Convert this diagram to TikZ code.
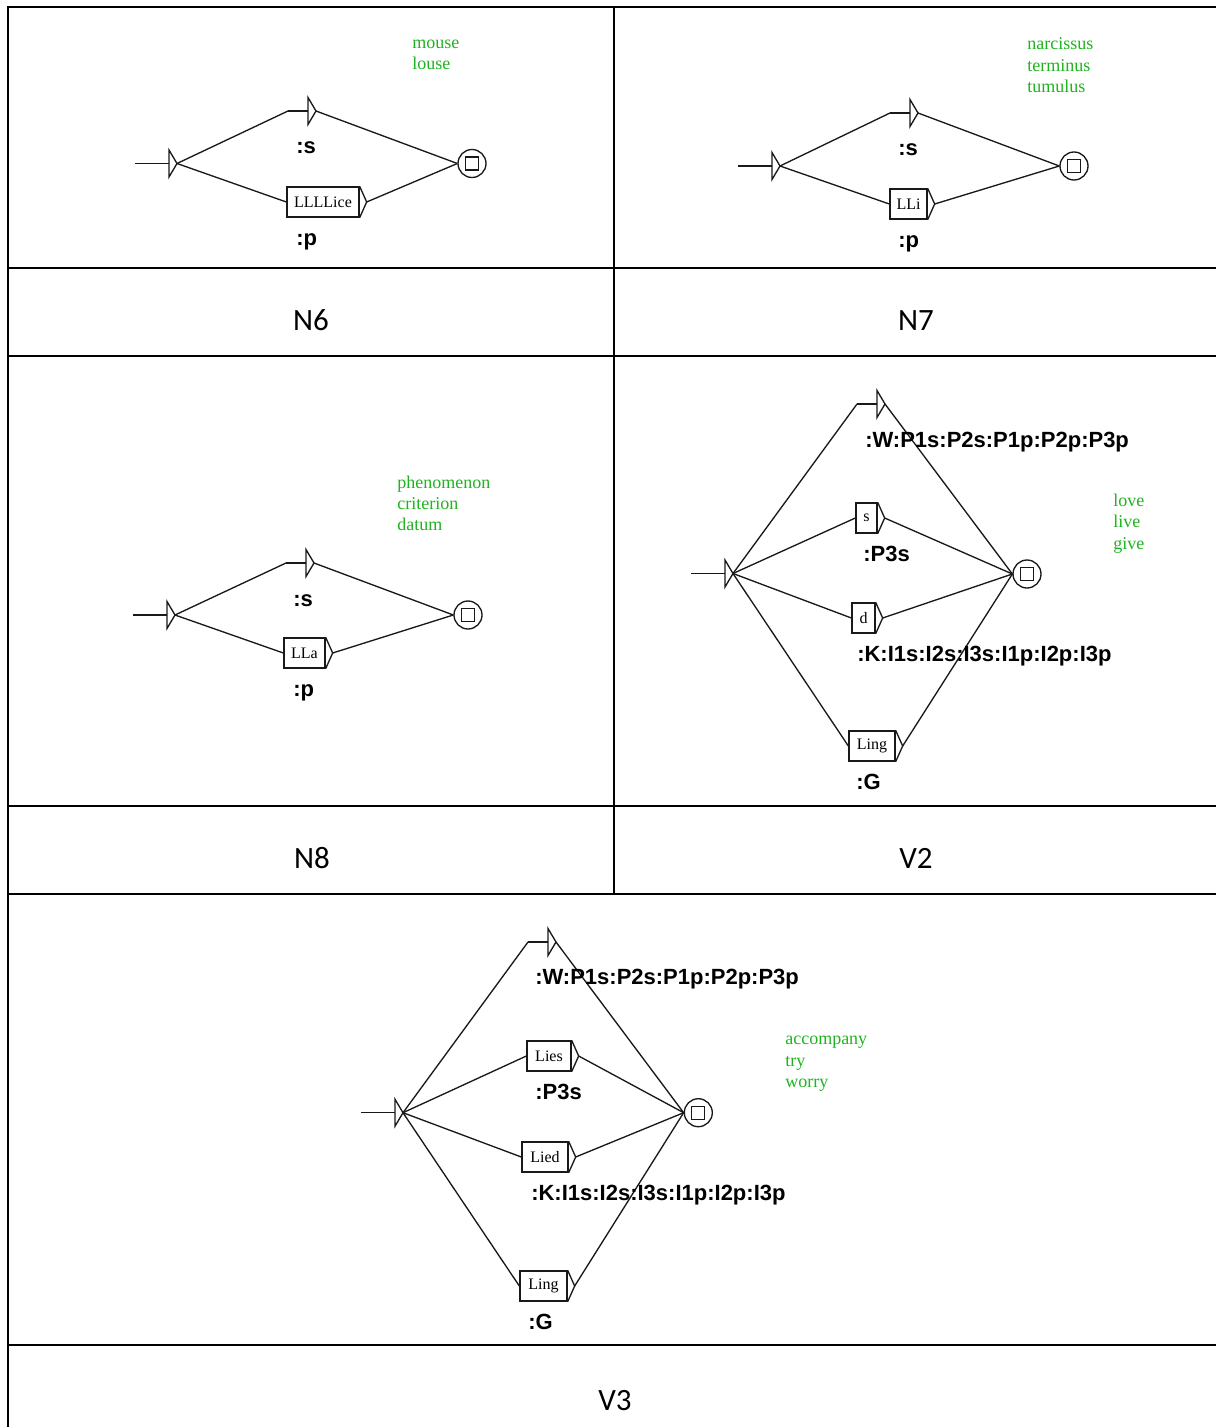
\documentclass[tikz,border=0pt]{standalone}
\usepackage{fontspec}
\newfontfamily\lblfont{Liberation Sans}
\newfontfamily\boxfont{Liberation Serif}
\newfontfamily\cellfont{Carlito}
\definecolor{cgreen}{RGB}{30,180,30}
\tikzset{
 tline/.style={line width=1.3pt},
 gline/.style={line width=1pt, black!90},
 tbox/.style={draw, line width=1pt, black!90, text=black, rectangle, inner sep=0pt, minimum height=22.5pt, font=\boxfont\fontsize{12}{14}\selectfont},
 fstate/.style={draw, circle, line width=1pt, black!90, minimum size=21pt, inner sep=0pt},
 fsq/.style={draw, rectangle, line width=1pt, black!90, minimum size=9.75pt, inner sep=0pt},
 olabel/.style={anchor=base west, inner sep=0pt, font=\lblfont\bfseries\fontsize{16.5}{19}\selectfont},
 cmt/.style={anchor=base west, inner sep=0pt, text=cgreen, font=\boxfont\fontsize{13.5}{16}\selectfont},
 cell/.style={anchor=base, inner sep=0pt, font=\cellfont\fontsize{23.25}{28}\selectfont},
}
\newcommand{\initst}[3]{%
 \coordinate (#1-s) at (#2-34,#3);
 \coordinate (#1-l) at (#2,#3);
 \coordinate (#1-i) at (#2+8,#3);
 \draw[gline] (#1-s) -- (#1-l);
 \draw[gline] (#2,#3-13.5) -- (#1-i) -- (#2,#3+13.5) -- cycle;
}
\newcommand{\epsbx}[3]{%
 \coordinate (#1-a) at (#2,#3);
 \coordinate (#1-l) at (#2+20,#3);
 \coordinate (#1-o) at (#2+28,#3);
 \draw[gline] (#1-a) -- (#1-l);
 \draw[gline] (#2+20,#3-13.5) -- (#1-o) -- (#2+20,#3+13.5) -- cycle;
}
\newcommand{\tbx}[5]{%
 \node[tbox, minimum width=#4*0.75pt] (#1) at (#2,#3) {#5};
 \coordinate (#1-o) at ([xshift=5.25pt]#1.east);
 \draw[gline] (#1.north east) -- (#1-o) -- (#1.south east);
}
\newcommand{\fst}[3]{%
 \node[fstate] (#1) at (#2,#3) {};
 \node[fsq] (#1-q) at (#1.center) {};
}
\begin{document}
\begin{tikzpicture}[x=0.75pt,y=-0.75pt]
\useasboundingbox (0,0) rectangle (1215,1427);
% table grid
\draw[tline] (7.3,7) -- (1220,7);
\draw[tline] (8,7) -- (8,1432);
\draw[tline] (614,7) -- (614,894);
\foreach \yy in {268,356,806,894,1345} {\draw[tline] (8,\yy) -- (1220,\yy);}
% cell captions
\node[cell] (capN6) at (311,330) {N6};
\node[cell] (capN7) at (916,330) {N7};
\node[cell] (capN8) at (312,868) {N8};
\node[cell] (capV2) at (916,868) {V2};
\node[cell] (capV3) at (615,1410) {V3};

% ---------- N6
\initst{a}{169}{163.5}
\epsbx{ae}{288}{111}
\tbx{ab}{323}{202}{72}{LLLLice}
\fst{af}{472}{163.5}
\draw[gline] (a-i) -- (ae-a);
\draw[gline] (ae-o) -- (af.west);
\draw[gline] (a-i) -- (ab.west);
\draw[gline] (ab-o) -- (af.west);
\node[olabel] (al1) at (296,154) {:s};
\node[olabel] (al2) at (296,245) {:p};
\node[cmt] (ac1) at (412,48.5) {mouse};
\node[cmt] (ac2) at (412,69.5) {louse};

% ---------- N7
\initst{b}{772}{166}
\epsbx{be}{890}{113}
\tbx{bb}{908.5}{204}{37}{LLi}
\fst{bf}{1074}{166}
\draw[gline] (b-i) -- (be-a);
\draw[gline] (be-o) -- (bf.west);
\draw[gline] (b-i) -- (bb.west);
\draw[gline] (bb-o) -- (bf.west);
\node[olabel] (bl1) at (898,156) {:s};
\node[olabel] (bl2) at (898,247) {:p};
\node[cmt] (bc1) at (1027,50) {narcissus};
\node[cmt] (bc2) at (1027,71.5) {terminus};
\node[cmt] (bc3) at (1027,93) {tumulus};

% ---------- N8
\initst{c}{167}{615}
\epsbx{ce}{286}{563}
\tbx{cb}{304.5}{653}{41}{LLa}
\fst{cf}{468}{615}
\draw[gline] (c-i) -- (ce-a);
\draw[gline] (ce-o) -- (cf.west);
\draw[gline] (c-i) -- (cb.west);
\draw[gline] (cb-o) -- (cf.west);
\node[olabel] (cl1) at (293,606) {:s};
\node[olabel] (cl2) at (293,696) {:p};
\node[cmt] (cc1) at (397,488.5) {phenomenon};
\node[cmt] (cc2) at (397,509.5) {criterion};
\node[cmt] (cc3) at (397,530.5) {datum};

% ---------- V2
\initst{d}{725}{573.5}
\epsbx{de}{857}{404}
\tbx{d1}{866.5}{518}{21}{s}
\tbx{d2}{863.5}{618}{23}{d}
\tbx{d3}{872}{746}{46}{Ling}
\fst{df}{1027}{574}
\draw[gline] (d-i) -- (de-a);
\draw[gline] (de-o) -- (df.west);
\draw[gline] (d-i) -- (d1.west);
\draw[gline] (d1-o) -- (df.west);
\draw[gline] (d-i) -- (d2.west);
\draw[gline] (d2-o) -- (df.west);
\draw[gline] (d-i) -- (d3.west);
\draw[gline] (d3-o) -- (df.west);
\node[olabel] (dl1) at (865,447) {:W:P1s:P2s:P1p:P2p:P3p};
\node[olabel] (dl2) at (863,561) {:P3s};
\node[olabel] (dl3) at (857,661) {:K:I1s:I2s:I3s:I1p:I2p:I3p};
\node[olabel] (dl4) at (856,789) {:G};
\node[cmt] (dc1) at (1113,506) {love};
\node[cmt] (dc2) at (1113,527.5) {live};
\node[cmt] (dc3) at (1113,549) {give};

% ---------- V3
\initst{e}{395}{1112.7}
\epsbx{ee}{528}{942}
\tbx{e1}{549}{1056}{44}{Lies}
\tbx{e2}{545}{1157}{46}{Lied}
\tbx{e3}{543.5}{1286}{47}{Ling}
\fst{ef}{698.3}{1112.7}
\draw[gline] (e-i) -- (ee-a);
\draw[gline] (ee-o) -- (ef.west);
\draw[gline] (e-i) -- (e1.west);
\draw[gline] (e1-o) -- (ef.west);
\draw[gline] (e-i) -- (e2.west);
\draw[gline] (e2-o) -- (ef.west);
\draw[gline] (e-i) -- (e3.west);
\draw[gline] (e3-o) -- (ef.west);
\node[olabel] (el1) at (535,984) {:W:P1s:P2s:P1p:P2p:P3p};
\node[olabel] (el2) at (535,1099) {:P3s};
\node[olabel] (el3) at (531,1200) {:K:I1s:I2s:I3s:I1p:I2p:I3p};
\node[olabel] (el4) at (528,1329) {:G};
\node[cmt] (ec1) at (785,1044.5) {accompany};
\node[cmt] (ec2) at (785,1066) {try};
\node[cmt] (ec3) at (785,1087.5) {worry};
\end{tikzpicture}
\end{document}
